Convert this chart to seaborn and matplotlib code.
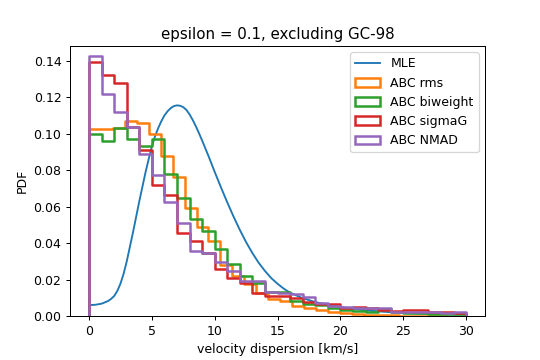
import numpy as np
import pandas as pd
import seaborn as sns
import matplotlib.pyplot as plt
from matplotlib.lines import Line2D
from matplotlib.patches import Patch

# MLE curve
mle_x = [0, 0.5, 1, 1.5, 1.75, 2, 2.25, 2.5, 2.75, 3, 3.25, 3.5, 3.75, 4,
         4.25, 4.5, 4.75, 5, 5.25, 5.5, 5.75, 6, 6.25, 6.5, 6.75, 7, 7.25,
         7.5, 7.75, 8, 8.25, 8.5, 8.75, 9, 9.5, 10, 10.5, 11, 11.5, 12, 12.5,
         13, 13.5, 14, 14.5, 15, 15.5, 16, 17, 18, 19, 20, 21, 22, 23, 24,
         25, 26, 27, 28, 29, 30]
mle_y = [0.0060, 0.0062, 0.0068, 0.0082, 0.0094, 0.0110, 0.0138, 0.0178,
         0.0232, 0.0300, 0.0380, 0.0460, 0.0545, 0.0630, 0.0710, 0.0790,
         0.0862, 0.0930, 0.0985, 0.1030, 0.1068, 0.1100, 0.1123, 0.1140,
         0.1151, 0.1155, 0.1153, 0.1145, 0.1130, 0.1105, 0.1075, 0.1040,
         0.1002, 0.0962, 0.0878, 0.0790, 0.0705, 0.0623, 0.0545, 0.0472,
         0.0405, 0.0345, 0.0292, 0.0247, 0.0208, 0.0177, 0.0150, 0.0128,
         0.0098, 0.0077, 0.0062, 0.0050, 0.0040, 0.0032, 0.0026, 0.0021,
         0.0017, 0.0014, 0.0012, 0.0010, 0.0008, 0.0007]

# ABC posteriors, 30 bins each (PDF per bin)
labels = ["ABC rms", "ABC biweight", "ABC sigmaG", "ABC NMAD"]
ranges = [28.5, 30.0, 30.0, 30.0]
rms = [0.1027, 0.1024, 0.103, 0.107, 0.106, 0.100, 0.088, 0.076, 0.059,
       0.049, 0.041, 0.028, 0.022, 0.0175, 0.0125, 0.0095, 0.008, 0.0055,
       0.0045, 0.0035, 0.0024, 0.0018, 0.0012, 0.0008, 0.0006, 0.0004,
       0.0003, 0.0003, 0.0002, 0.0002]
biweight = [0.100, 0.096, 0.103, 0.097, 0.093, 0.097, 0.078, 0.0645, 0.053,
            0.0465, 0.0365, 0.0284, 0.022, 0.0183, 0.013, 0.0132, 0.0082,
            0.0068, 0.006, 0.0046, 0.0033, 0.0026, 0.0024, 0.0038, 0.002,
            0.0018, 0.0016, 0.0014, 0.0012, 0.001]
sigmaG = [0.1394, 0.132, 0.1276, 0.1038, 0.091, 0.0716, 0.0661, 0.0456,
          0.041, 0.0348, 0.0256, 0.021, 0.0183, 0.0128, 0.011, 0.011,
          0.0097, 0.0079, 0.0064, 0.0064, 0.0042, 0.0049, 0.0042, 0.0035,
          0.003, 0.0031, 0.0031, 0.0022, 0.002, 0.0018]
nmad = [0.1423, 0.1218, 0.1119, 0.1038, 0.0888, 0.0775, 0.0628, 0.0511,
        0.0357, 0.0345, 0.0298, 0.0245, 0.0192, 0.0192, 0.0134, 0.0125,
        0.0119, 0.0105, 0.0073, 0.0055, 0.0052, 0.0046, 0.0046, 0.0046,
        0.0024, 0.0024, 0.0024, 0.0024, 0.0018, 0.0024]
colors = ["#ff7f0e", "#2ca02c", "#d62728", "#9467bd"]

fig, ax = plt.subplots(figsize=(6, 4), dpi=90)
fig.subplots_adjust(left=0.13, right=0.898, bottom=0.122, top=0.872)

sns.lineplot(x=mle_x, y=mle_y, color="#1f77b4", linewidth=1.5, ax=ax)

for vals, top, c in zip([rms, biweight, sigmaG, nmad], ranges, colors):
    edges = np.linspace(0, top, len(vals) + 1)
    df = pd.DataFrame({"v": (edges[:-1] + edges[1:]) / 2, "w": vals})
    # tiny empty bins at both ends so the step outline drops to zero
    bins = list(np.concatenate([[-1e-6], edges, [top + 1e-6]]))
    sns.histplot(data=df, x="v", weights="w", bins=bins, element="step",
                 fill=False, color=c, linewidth=2, ax=ax)

ax.set_xlim(-1.5, 31.5)
ax.set_ylim(0, 0.148)
ax.set_xlabel("velocity dispersion [km/s]")
ax.set_ylabel("PDF")
ax.set_title("epsilon = 0.1, excluding GC-98")

handles = [Line2D([], [], color="#1f77b4", lw=1.5)]
handles += [Patch(facecolor="none", edgecolor=c, lw=2) for c in colors]
ax.legend(handles, ["MLE"] + labels, loc="upper right")

plt.savefig("out.png", dpi=90)
